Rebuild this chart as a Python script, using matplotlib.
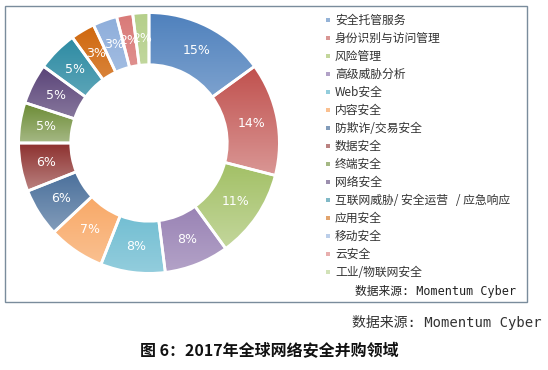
import matplotlib
matplotlib.use("Agg")
import matplotlib.pyplot as plt
import numpy as np
from matplotlib.patches import Rectangle
from matplotlib.colors import to_rgb

plt.rcParams['font.family'] = ['Noto Sans CJK SC', 'DejaVu Sans']

categories = ["安全托管服务", "身份识别与访问管理", "风险管理", "高级威胁分析", "Web安全",
              "内容安全", "防欺诈/交易安全", "数据安全", "终端安全", "网络安全",
              "互联网威胁/ 安全运营   / 应急响应", "应用安全", "移动安全", "云安全", "工业/物联网安全"]
values = [15, 14, 11, 8, 8, 7, 6, 6, 5, 5, 5, 3, 3, 2, 2]
labels = [f"{v}%" for v in values]
colors = ["#4f81bd", "#c0504d", "#9bbb59", "#8064a2", "#4bacc6", "#f79646",
          "#2f5a8c", "#8c2f2d", "#6a8a33", "#5a4478", "#2d8ba3", "#d0680e",
          "#8eaedb", "#d97a78", "#b5cf8a"]

W, H = 548, 370
fig = plt.figure(figsize=(W / 100, H / 100), dpi=100)

# outer frame
fig.patches.append(Rectangle((5 / W, 1 - 302 / H), 522 / W, 296 / H, transform=fig.transFigure,
                             fill=False, edgecolor="#7a8c9c", linewidth=1.0))

cx, cy, r = 149, 143, 133
ax = fig.add_axes([(cx - r) / W, 1 - (cy + r) / H, 2 * r / W, 2 * r / H])
wedges, _ = ax.pie(values, colors=colors, startangle=90, counterclock=False, radius=1.0,
                   wedgeprops=dict(width=0.4, edgecolor="white", linewidth=2.0))
ax.set_aspect("equal")
ax.axis("off")

# gradient fill per wedge (darker top, lighter bottom)
for w, c in zip(wedges, colors):
    base = np.array(to_rgb(c))
    light = base + (1 - base) * 0.4
    grad = np.linspace(0, 1, 64)[:, None, None]
    img = base[None, None, :] * (1 - grad) + light[None, None, :] * grad
    verts = w.get_path().vertices
    x0, x1 = verts[:, 0].min(), verts[:, 0].max()
    y0, y1 = verts[:, 1].min(), verts[:, 1].max()
    im = ax.imshow(img, extent=(x0, x1, y0, y1), origin="upper", aspect="auto", zorder=1.5,
                   interpolation="bilinear")
    im.set_clip_path(w)
    w.set_zorder(2)
    w.set_facecolor("none")
ax.set_xlim(-1.02, 1.02)
ax.set_ylim(-1.02, 1.02)

# percentage labels
total = sum(values)
ang = 90.0
for v, lab in zip(values, labels):
    span = 360.0 * v / total
    mid = np.deg2rad(ang - span / 2)
    ax.text(0.8 * np.cos(mid), 0.8 * np.sin(mid), lab, ha="center", va="center",
            color="white", fontsize=9, zorder=3, family=["DejaVu Sans"])
    ang -= span

# legend
y0 = 20
step = 18.0
for i, (cat, c) in enumerate(zip(categories, colors)):
    y = y0 + i * step
    fig.patches.append(Rectangle((326 / W, 1 - (y + 2) / H), 4 / W, 4 / H,
                                 transform=fig.transFigure, facecolor=c, edgecolor="none", alpha=0.6))
    fig.text(335 / W, 1 - y / H, cat, ha="left", va="center", fontsize=8.5, color="#333333")

fig.text(355 / W, 1 - 291 / H, "数据来源: Momentum Cyber", ha="left", va="center", fontsize=8.5,
         color="#222222", family=["DejaVu Sans Mono", "Noto Sans CJK SC"])
fig.text(352 / W, 1 - 322 / H, "数据来源: Momentum Cyber", ha="left", va="center", fontsize=10,
         color="#333333", family=["DejaVu Sans Mono", "Noto Sans CJK SC"])
fig.text(140 / W, 1 - 351 / H, "图 6：2017年全球网络安全并购领域", ha="left", va="center",
         fontsize=11.5, fontweight="bold", color="#111111")

fig.savefig("out.png", dpi=100)
